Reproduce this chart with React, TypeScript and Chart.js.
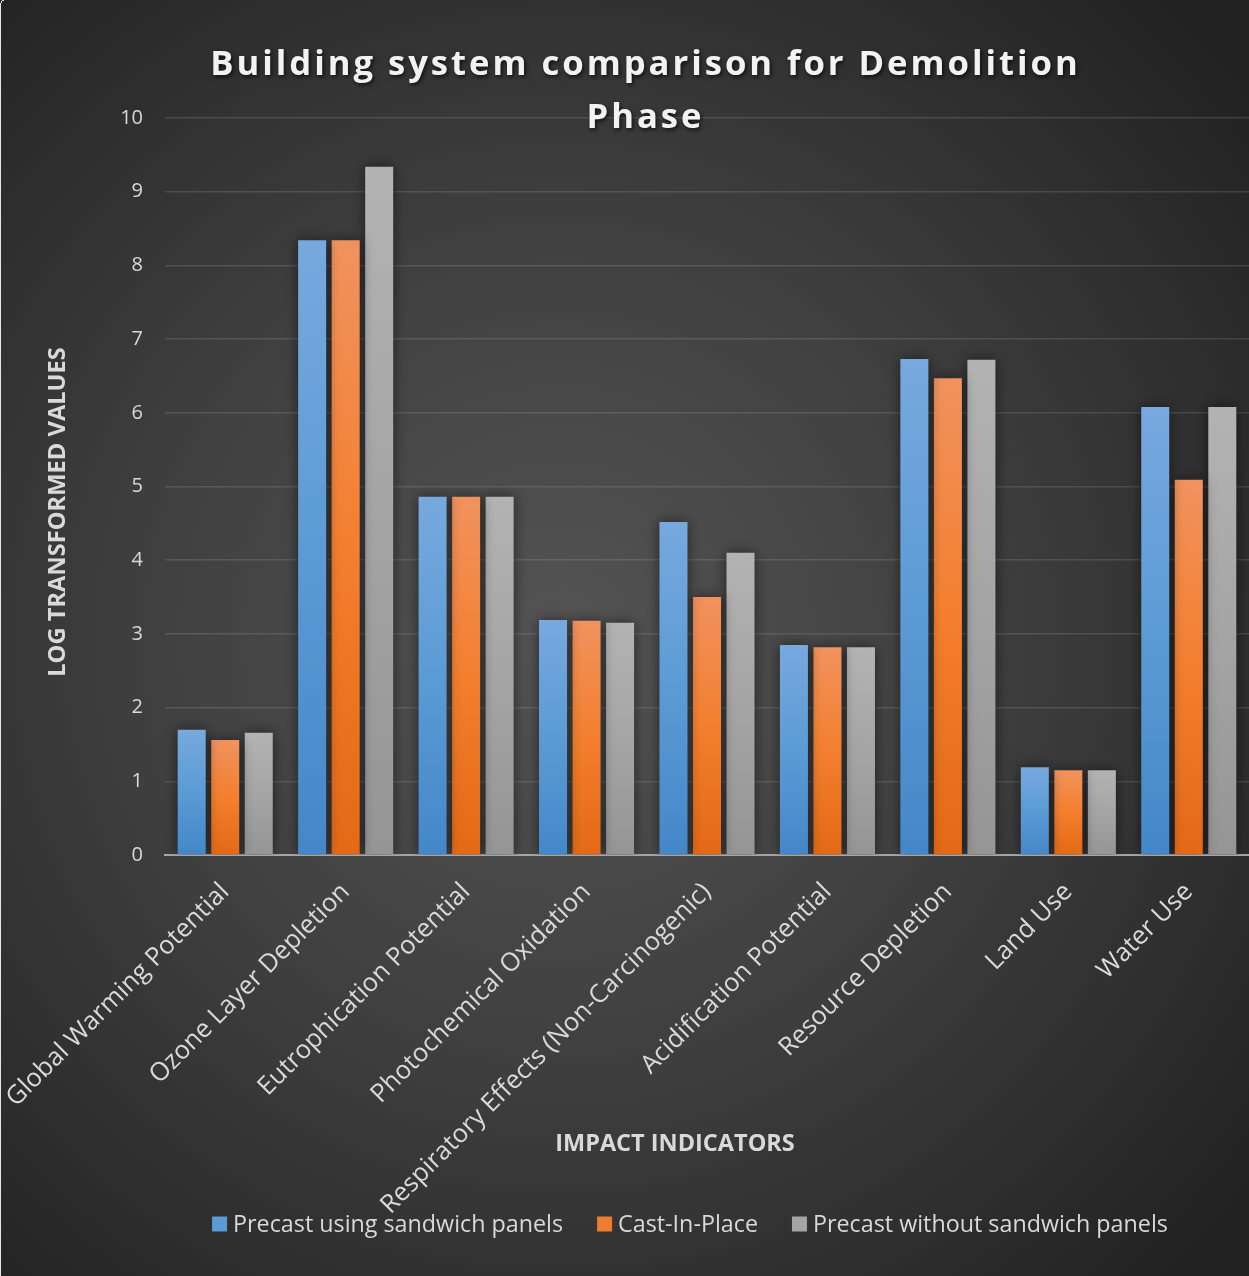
import React, { useEffect, useRef } from "react";
import { Chart, registerables } from "chart.js";
Chart.register(...registerables);

const categories = [
  "Global Warming Potential",
  "Ozone Layer Depletion",
  "Eutrophication Potential",
  "Photochemical Oxidation",
  "Respiratory Effects (Non-Carcinogenic)",
  "Acidification Potential",
  "Resource Depletion",
  "Land Use",
  "Water Use",
];
const precastSandwich = [1.7, 8.34, 4.86, 3.19, 4.52, 2.85, 6.73, 1.19, 6.08];
const castInPlace = [1.56, 8.34, 4.86, 3.18, 3.5, 2.82, 6.47, 1.15, 5.09];
const precastWithout = [1.66, 9.34, 4.86, 3.15, 4.1, 2.82, 6.72, 1.15, 6.08];
const seriesNames = ["Precast using sandwich panels", "Cast-In-Place", "Precast without sandwich panels"];
const titleLines = ["Building system comparison for Demolition", "Phase"];
const xTitle = "IMPACT INDICATORS";
const yTitle = "LOG TRANSFORMED VALUES";
const yMin = 0;
const yMax = 10;
const yStep = 1;

const W = 1249;
const H = 1276;
const FONT = '"Open Sans", "DejaVu Sans", sans-serif';
const TEXT = "#d9d9d9";

const palettes = [
  ["#77a9de", "#5b9bd5", "#4487c9"],
  ["#f1925e", "#f47f2e", "#e36915"],
  ["#b3b3b3", "#a5a5a5", "#959595"],
];
const legendColors = ["#5b9bd5", "#ed7d31", "#a5a5a5"];

function barGradient(colors: string[]) {
  return (ctx: any) => {
    const chart = ctx.chart;
    const { chartArea, scales } = chart;
    if (!chartArea || ctx.type !== "data" || !scales.y) return colors[1];
    const top = scales.y.getPixelForValue(ctx.raw);
    const base = scales.y.getPixelForValue(0);
    if (!isFinite(top) || !isFinite(base) || base - top < 1) return colors[1];
    const g = chart.ctx.createLinearGradient(0, top, 0, base);
    g.addColorStop(0, colors[0]);
    g.addColorStop(0.5, colors[1]);
    g.addColorStop(1, colors[2]);
    return g;
  };
}

const bgPlugin = {
  id: "bg",
  beforeDraw(chart: any) {
    const c = chart.ctx;
    c.save();
    const g = c.createRadialGradient(560, 640, 0, 560, 640, 900);
    g.addColorStop(0, "#545454");
    g.addColorStop(0.45, "#404040");
    g.addColorStop(1, "#212121");
    c.fillStyle = g;
    c.fillRect(0, 0, chart.width, chart.height);
    // thin light frame edge on the left
    c.fillStyle = "#e6e6e6";
    c.fillRect(0, 3, 1, chart.height - 3);
    c.fillRect(1, 1, 1, 2);
    c.fillRect(2, 0, 2, 1);
    c.restore();
  },
};

const shadowPlugin = {
  id: "barShadow",
  beforeDatasetsDraw(chart: any) {
    const c = chart.ctx;
    c.save();
    c.shadowColor = "rgba(0,0,0,0.55)";
    c.shadowBlur = 14;
    c.shadowOffsetX = 0;
    c.shadowOffsetY = 0;
  },
  afterDatasetsDraw(chart: any) {
    chart.ctx.restore();
  },
};

const textPlugin = {
  id: "texts",
  afterDraw(chart: any) {
    const c = chart.ctx;
    // Title
    c.save();
    c.fillStyle = "#f2f2f2";
    c.textAlign = "center";
    c.textBaseline = "middle";
    c.font = `bold 100px ${FONT}`;
    (c as any).letterSpacing = "0px";
    const m100 = c.measureText(titleLines[0]).width;
    const n = titleLines[0].length;
    const ratio = 0.085;
    const fs = 870 / (m100 / 100 + ratio * n);
    c.font = `bold ${fs.toFixed(1)}px ${FONT}`;
    (c as any).letterSpacing = `${(ratio * fs).toFixed(2)}px`;
    c.shadowColor = "rgba(0,0,0,0.7)";
    c.shadowBlur = 4;
    c.shadowOffsetX = 1.5;
    c.shadowOffsetY = 2;
    const cx = 644 + (ratio * fs) / 2;
    c.fillText(titleLines[0], cx, 65);
    c.fillText(titleLines[1], cx, 118);
    c.restore();

    // X axis title
    c.save();
    c.fillStyle = TEXT;
    c.textAlign = "center";
    c.textBaseline = "middle";
    c.font = `bold 23.5px ${FONT}`;
    c.fillText(xTitle, 675, 1144);
    // Y axis title
    c.translate(58, 512);
    c.rotate(-Math.PI / 2);
    c.font = `bold 23.7px ${FONT}`;
    c.fillText(yTitle, 0, 0);
    c.restore();

    // Legend
    c.save();
    c.font = `23.3px ${FONT}`;
    c.textBaseline = "middle";
    c.textAlign = "left";
    const box = 15;
    const gapBox = 6;
    const gapItem = 34;
    const widths = seriesNames.map((s) => c.measureText(s).width);
    const total = widths.reduce((a, w) => a + box + gapBox + w, 0) + gapItem * (seriesNames.length - 1);
    let x = 690 - total / 2;
    const y = 1224;
    seriesNames.forEach((s, i) => {
      c.fillStyle = legendColors[i];
      c.fillRect(x, y - box / 2, box, box);
      c.fillStyle = TEXT;
      c.fillText(s, x + box + gapBox, y + 1);
      x += box + gapBox + widths[i] + gapItem;
    });
    c.restore();
  },
};

export default function App() {
  const ref = useRef<HTMLCanvasElement | null>(null);
  useEffect(() => {
    if (!ref.current) return;
    const chart = new Chart(ref.current, {
      type: "bar",
      data: {
        labels: categories,
        datasets: [
          { label: seriesNames[0], data: precastSandwich, backgroundColor: barGradient(palettes[0]) as any },
          { label: seriesNames[1], data: castInPlace, backgroundColor: barGradient(palettes[1]) as any },
          { label: seriesNames[2], data: precastWithout, backgroundColor: barGradient(palettes[2]) as any },
        ],
      },
      options: {
        responsive: false,
        animation: false,
        devicePixelRatio: 1,
        layout: { padding: { top: 118, left: 0, right: 0, bottom: 0 }, autoPadding: false } as any,
        datasets: { bar: { categoryPercentage: 0.835, barPercentage: 0.836 } } as any,
        plugins: {
          legend: { display: false },
          title: { display: false },
          tooltip: { enabled: false },
        },
        scales: {
          x: {
            grid: { display: false, drawTicks: false },
            border: { display: true, color: "#a6a6a6", width: 2 },
            ticks: {
              color: TEXT,
              font: { family: FONT, size: 25.5 },
              minRotation: 45,
              maxRotation: 45,
              autoSkip: false,
              padding: 22,
            },
            afterFit: (s: any) => {
              s.height = H - 855;
              s.paddingLeft = 0;
              s.paddingRight = 0;
            },
          },
          y: {
            min: yMin,
            max: yMax,
            ticks: { stepSize: yStep, color: TEXT, font: { family: FONT, size: 20 }, padding: 22 },
            grid: { color: "rgba(255,255,255,0.12)", lineWidth: 1.5, drawTicks: false },
            border: { display: false },
            afterFit: (s: any) => {
              s.width = 165;
              s.paddingTop = 0;
              s.paddingBottom = 0;
            },
          },
        },
      },
      plugins: [bgPlugin, shadowPlugin, textPlugin],
    });
    return () => chart.destroy();
  }, []);
  return (
    <div style={{ position: "absolute", left: 0, top: 0, width: W, height: H }}>
      <canvas ref={ref} width={W} height={H} style={{ display: "block", width: W, height: H }} />
    </div>
  );
}
